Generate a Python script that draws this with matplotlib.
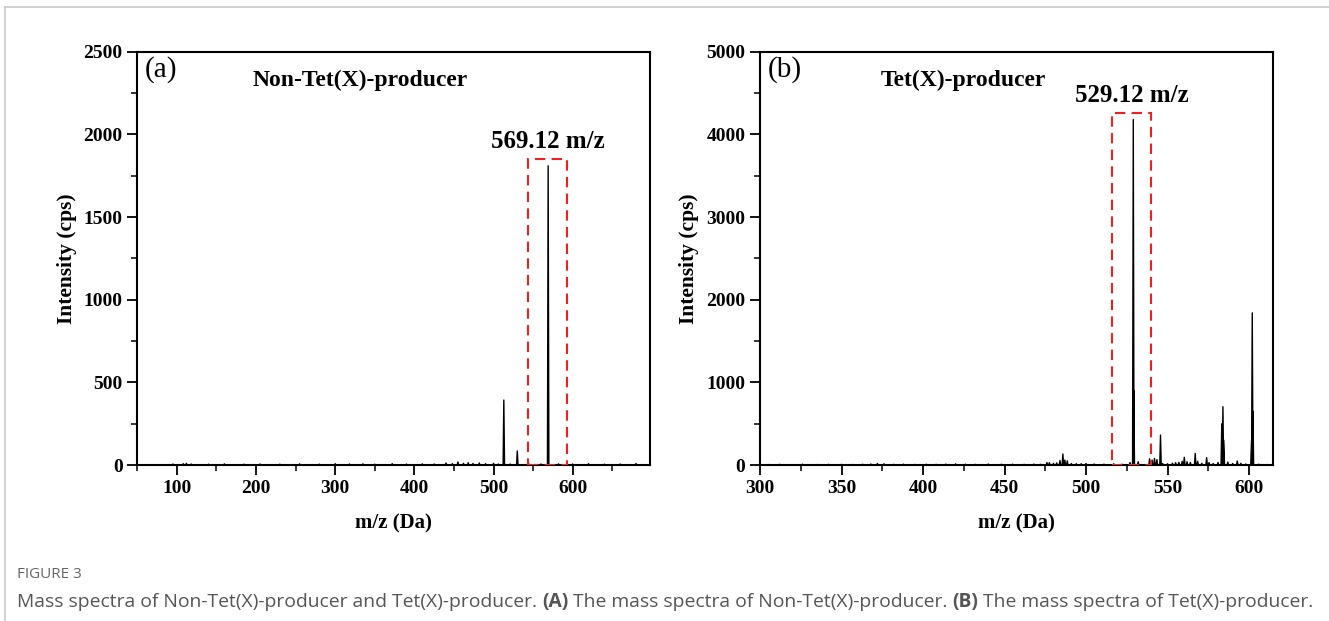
import numpy as np
import matplotlib
matplotlib.use("Agg")
import matplotlib.pyplot as plt
from matplotlib.patches import Rectangle
from matplotlib.ticker import MultipleLocator
from matplotlib.lines import Line2D

plt.rcParams["font.family"] = ["Liberation Serif", "DejaVu Serif"]

# ---------- data ----------
# (a) Non-Tet(X)-producer
mz_a = [95, 108, 112, 118, 140, 160, 185, 205, 230, 255, 280, 300, 318, 335, 350,
        372, 390, 410, 425, 440, 448, 455, 462, 468, 474, 482, 490, 500, 506,
        513, 521, 530, 545, 560, 569, 582, 600, 620, 640, 660, 680]
int_a = [6, 8, 10, 6, 5, 7, 5, 6, 5, 7, 5, 8, 6, 7, 5,
         8, 6, 7, 6, 12, 8, 18, 10, 14, 9, 12, 8, 10, 6,
         393, 6, 85, 5, 6, 1810, 7, 6, 8, 5, 6, 9]

# (b) Tet(X)-producer
mz_b = [305, 312, 320, 326, 335, 342, 350, 357, 363, 368, 372, 376, 382, 388, 395,
        402, 408, 414, 420, 426, 432, 440, 448, 455, 462, 468, 472,
        476, 477.5, 480, 482, 484, 485.8, 487, 488.5, 491, 494, 497, 500, 505,
        511, 517, 522, 527, 529, 529.3, 532, 539, 540.5, 542, 543.5, 545.7, 547,
        550, 553, 555, 557, 559, 560.3, 562, 564, 567, 568.5, 571, 574, 575.5,
        578, 581, 583.3, 584, 584.5, 587, 590, 592.8, 595, 598, 601.6, 602, 602.4,
        606, 611]
int_b = [6, 8, 5, 10, 6, 8, 7, 6, 9, 12, 18, 15, 8, 10, 7,
         9, 8, 11, 14, 10, 8, 12, 9, 10, 8, 11, 9,
         30, 28, 20, 25, 55, 133, 60, 50, 18, 16, 15, 18, 12,
         10, 14, 9, 30, 4180, 900, 40, 75, 60, 80, 65, 362, 18,
         15, 22, 28, 32, 45, 93, 40, 30, 140, 45, 20, 89, 30,
         18, 30, 500, 705, 300, 35, 18, 48, 20, 12, 300, 1841, 650,
         10, 6]

labels = ["(a)", "(b)"]
titles = ["Non-Tet(X)-producer", "Tet(X)-producer"]
peak_labels = ["569.12 m/z", "529.12 m/z"]
boxes = [(544, 593, 1851), (516, 540, 4262)]  # x0, x1, top
xlims = [(50, 698), (300, 615)]
ylims = [(0, 2500), (0, 5000)]
xmajor = [100, 50]
ymajor = [500, 1000]
peak_w = [0.9, 0.45]


def stick_profile(mz, inten, w, lo, hi):
    # narrow triangular peaks on a flat baseline
    xs, ys = [lo], [0]
    for m, h in sorted(zip(mz, inten)):
        xs += [m - w, m, m + w]
        ys += [0, h, 0]
    xs.append(hi); ys.append(0)
    return np.array(xs), np.array(ys)


fig = plt.figure(figsize=(13.29, 6.21), dpi=100)
ax_pos = [[0.1033, 0.2512, 0.3860, 0.6655], [0.5719, 0.2512, 0.3863, 0.6655]]
data = [(mz_a, int_a), (mz_b, int_b)]
title_x = [0.225, 0.235]

for i in range(2):
    ax = fig.add_axes(ax_pos[i])
    mz, inten = data[i]
    x, y = stick_profile(mz, inten, peak_w[i], *xlims[i])
    ax.plot(x, y, color="black", lw=1.0)
    ax.set_xlim(*xlims[i]); ax.set_ylim(*ylims[i])

    x0, x1, top = boxes[i]
    ax.add_patch(Rectangle((x0, 0), x1 - x0, top, fill=False, edgecolor="#f02020",
                           lw=1.5, linestyle=(0, (5, 3)), zorder=3))
    ax.text((x0 + x1) / 2, top + ylims[i][1] * 0.014, peak_labels[i], ha="center",
            va="bottom", fontsize=18, fontweight="bold")
    ax.text(0.015, 0.99, labels[i], transform=ax.transAxes, ha="left", va="top",
            fontsize=21)
    ax.text(title_x[i], 0.93, titles[i], transform=ax.transAxes,
            ha="left", va="center", fontsize=17, fontweight="bold")

    ax.xaxis.set_major_locator(MultipleLocator(xmajor[i]))
    ax.xaxis.set_minor_locator(MultipleLocator(xmajor[i] / 2))
    ax.yaxis.set_major_locator(MultipleLocator(ymajor[i]))
    ax.yaxis.set_minor_locator(MultipleLocator(ymajor[i] / 2))
    ax.tick_params(which="major", direction="out", length=7, width=1.3,
                   labelsize=14, top=False, right=False)
    ax.tick_params(which="minor", direction="out", length=4, width=1.1,
                   top=False, right=False)
    for lab in ax.get_xticklabels() + ax.get_yticklabels():
        lab.set_fontweight("bold")
    for s in ax.spines.values():
        s.set_linewidth(1.5)
    ax.set_xlabel("m/z (Da)", fontsize=15, fontweight="bold", labelpad=12)
    ax.set_ylabel("Intensity (cps)", fontsize=15.5, fontweight="bold", labelpad=5)

# figure frame (top and left grey rules)
fig.add_artist(Line2D([5 / 1329, 1], [1 - 7 / 621, 1 - 7 / 621], color="#c8c8c8",
                      lw=1.2, transform=fig.transFigure))
fig.add_artist(Line2D([5 / 1329, 5 / 1329], [0, 1 - 7 / 621], color="#c8c8c8",
                      lw=1.2, transform=fig.transFigure))

# caption
cap_font = ["Open Sans", "DejaVu Sans"]
fig.text(17 / 1329, 1 - 574 / 621, "FIGURE 3", fontsize=11, color="#666666",
         family=cap_font, va="center")
segments = [
    ("Mass spectra of Non-Tet(X)-producer and Tet(X)-producer. ", "normal"),
    ("(A)", "bold"),
    (" The mass spectra of Non-Tet(X)-producer. ", "normal"),
    ("(B)", "bold"),
    (" The mass spectra of Tet(X)-producer.", "normal"),
]
renderer = fig.canvas.get_renderer()
xpix = 17
for txt, wt in segments:
    t = fig.text(xpix / 1329, 1 - 602 / 621, txt, fontsize=13.85, color="#555555",
                 family=cap_font, fontweight=wt, va="center")
    bb = t.get_window_extent(renderer=renderer)
    xpix += bb.width

fig.savefig("out.png", dpi=100)
